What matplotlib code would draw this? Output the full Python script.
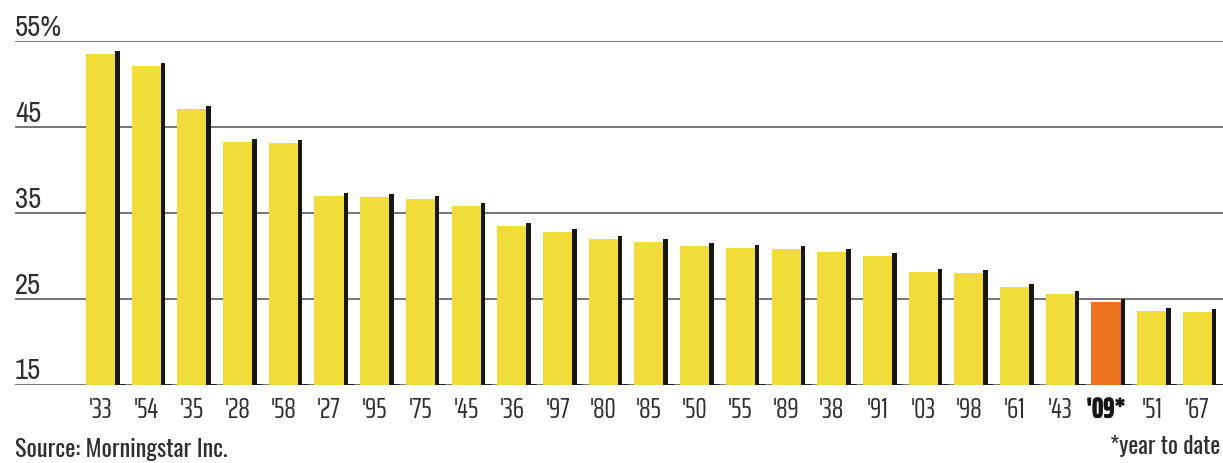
import math
import matplotlib
matplotlib.use("Agg")
import matplotlib.pyplot as plt
import matplotlib.transforms as mtransforms
import matplotlib.patheffects as pe
from matplotlib import font_manager
from matplotlib.textpath import TextPath
from matplotlib.font_manager import FontProperties

years = ["'33", "'54", "'35", "'28", "'58", "'27", "'95", "'75", "'45", "'36",
         "'97", "'80", "'85", "'50", "'55", "'89", "'38", "'91", "'03", "'98",
         "'61", "'43", "'09*", "'51", "'67"]
values = [53.5, 52.1, 47.1, 43.2, 43.1, 36.9, 36.8, 36.6, 35.8, 33.4,
          32.8, 31.9, 31.6, 31.1, 30.9, 30.8, 30.4, 29.9, 28.1, 28.0,
          26.4, 25.5, 24.6, 23.5, 23.4]
highlight = "'09*"
yticks = [15, 25, 35, 45, 55]
ytick_labels = ["15", "25", "35", "45", "55%"]
source_text = "Source: Morningstar Inc."
note_text = "*year to date"

names = {f.name for f in font_manager.fontManager.ttflist}
cands = ["Pathway Gothic One", "Saira ExtraCondensed", "Antonio", "Saira Condensed",
         "Fira Sans Extra Condensed", "Roboto Condensed", "PT Sans Narrow",
         "Archivo Narrow", "Barlow Condensed", "Oswald", "Open Sans Condensed"]
cands = [c for c in cands if c in names] or ["DejaVu Sans"]

def extents(s, fam):
    b = TextPath((0, 0), s, size=100, prop=FontProperties(family=fam)).get_extents()
    return b.width, b.height

def choose(sample, href, tw, th):
    best = None
    for fam in cands:
        w, _ = extents(sample, fam)
        _, h = extents(href, fam)
        if h <= 0:
            continue
        err = abs(math.log((w / h) / (tw / th)))
        if best is None or err < best[0]:
            best = (err, fam, h)
    _, fam, h = best
    return fam, th * 72.0 / h

FX, SX = choose("'33", "33", 20, 20)
FY, SY = choose("55%", "55", 46, 20)
FS, SS = choose(source_text, "S", 217, 20)
wn, _ = extents(note_text, FS)
SN = 108 * 72.0 / wn

YELLOW = "#F1DC3A"
ORANGE = "#EE7420"
TXT = "#2f2f2f"

W, H = 1223, 464
fig = plt.figure(figsize=(W/100, H/100), dpi=100)
left = 15 / W
bottom = (H - 385.5) / H
top = (H - 41.7) / H
ax = fig.add_axes([left, bottom, 1.0 - left, top - bottom])

ax.set_ylim(15, 55)
ax.set_xlim(-1.87, 24.56)

for v in yticks:
    ax.axhline(v, color="#6a6a6a", lw=1.3, zorder=0)

x = list(range(len(years)))
colors = [ORANGE if y == highlight else YELLOW for y in years]
bw = 0.635
ax.bar(x, [v - 15 for v in values], bottom=15, width=bw, color=colors, zorder=2)
ax.bar([i + bw/2 + 0.05 for i in x], [v - 15 + 0.35 for v in values], bottom=15,
       width=0.1, color="#161616", zorder=3)
ax.hlines([15]*len(x), [i + bw/2 + 0.05 for i in x], [i + bw/2 + 0.22 for i in x],
          color="#161616", lw=2, zorder=3)

for s in ax.spines.values():
    s.set_visible(False)
ax.set_yticks([])
ax.set_xticks(x)
ax.set_xticklabels(years, fontsize=SX, color=TXT, family=[FX, 'DejaVu Sans'])
ax.tick_params(axis='x', length=0, pad=33 * 0.72)
for lbl in ax.get_xticklabels():
    lbl.set_verticalalignment('baseline')
    if lbl.get_text() == highlight:
        lbl.set_fontweight("bold")
        lbl.set_color("#151515")
        lbl.set_path_effects([pe.withStroke(linewidth=0.6, foreground="#151515")])

trans = mtransforms.blended_transform_factory(ax.transAxes, ax.transData)
offset = mtransforms.offset_copy(trans, fig=fig, x=0, y=6, units='dots')
for v, t in zip(yticks, ytick_labels):
    ax.text(0.0, v, t, transform=offset, ha='left', va='baseline',
            fontsize=SY, color=TXT, family=[FY, 'DejaVu Sans'])

fig.text(15 / W, 1 - 457 / H, source_text, ha='left', va='baseline',
         fontsize=SS, color=TXT, family=[FS, 'DejaVu Sans'])
fig.text(1220 / W, 1 - 454 / H, note_text, ha='right', va='baseline',
         fontsize=SN, color=TXT, family=[FS, 'DejaVu Sans'])

fig.savefig("out.png", dpi=100, facecolor="white")
